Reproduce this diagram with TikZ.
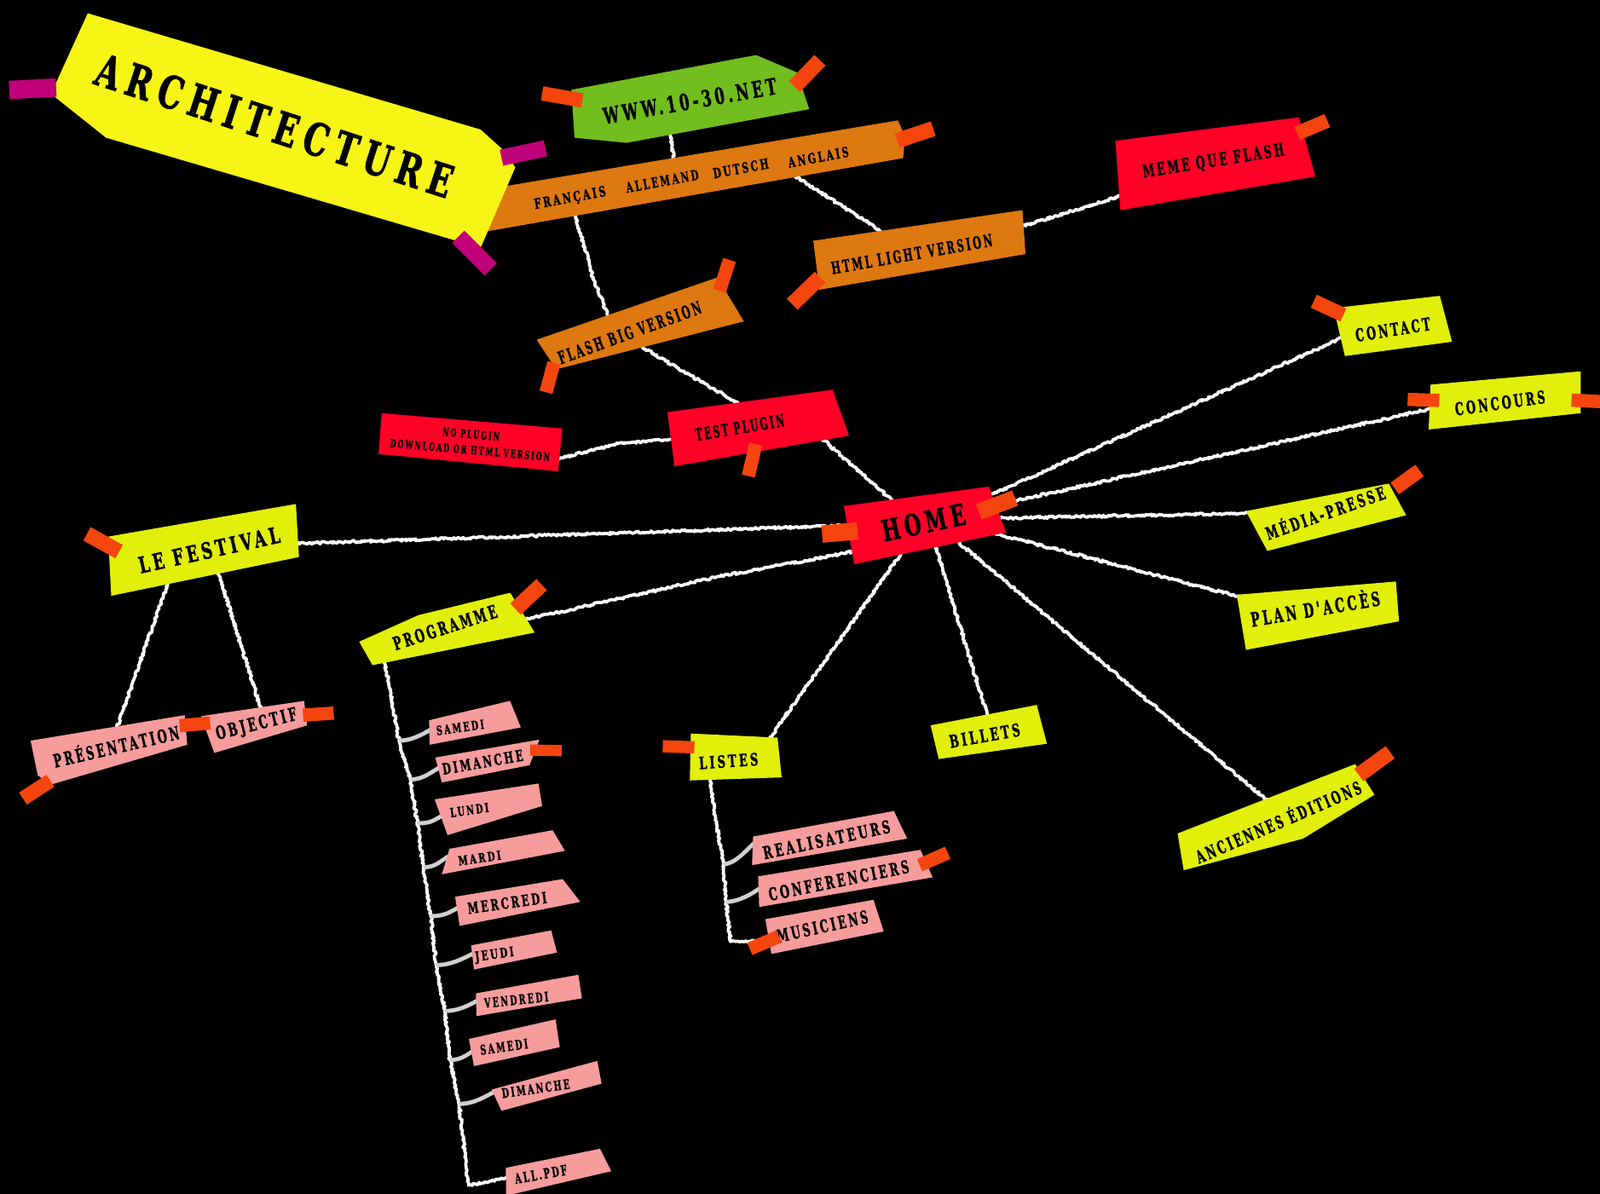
\documentclass[tikz,border=0pt]{standalone}
\usepackage{fontspec}
\usepackage{graphicx}
\newfontfamily\slab{DejaVu Serif}[LetterSpace=24,FakeBold=1.8]
\usetikzlibrary{decorations.pathmorphing}
\definecolor{cYel}{HTML}{F7F516}
\definecolor{cLime}{HTML}{E1EF0B}
\definecolor{cGreen}{HTML}{72BE1F}
\definecolor{cOrg}{HTML}{DE7811}
\definecolor{cRed}{HTML}{FF0026}
\definecolor{cPink}{HTML}{F79C9C}
\definecolor{cTape}{HTML}{F5450F}
\definecolor{cMag}{HTML}{C0007A}
\newcommand\lbltext[3]{\resizebox{#1pt}{#2pt}{\smash{#3}\vphantom{X}}}
\newcommand\tp[6]{\node[tape,fill=#1,minimum width=#5pt,minimum height=#6pt,rotate=#4] (#2) at (#3) {};}
\begin{document}
\begin{tikzpicture}[x=1pt,y=-1pt,
  lbl/.style={inner sep=0pt,font=\slab\bfseries,text=black},
  tape/.style={rectangle,inner sep=0pt,draw=none},
  chalk/.style={draw=white,line width=3.1pt,line cap=round,line join=round,decorate,decoration={random steps,segment length=1.5pt,amplitude=1.2pt}},
  twig/.style={draw=white!82!black,line width=1.1pt,line join=round,decorate,decoration={zigzag,segment length=1.3pt,amplitude=1.7pt}}]
\useasboundingbox (0,0) rectangle (1568,1170);
\fill[black] (0,0) rectangle (1568,1170);

% ---------- attachment points ----------
\coordinate (wwwB) at (656,128);  \coordinate (barT) at (663,170);
\coordinate (barR) at (775,170);  \coordinate (htmlT) at (872,232);
\coordinate (barL) at (562,205);  \coordinate (barLm) at (572,240); \coordinate (barLn) at (583,278);
\coordinate (flashT) at (600,318);
\coordinate (flashB) at (620,335);\coordinate (testT) at (735,402);
\coordinate (testR) at (800,425); \coordinate (homeT) at (885,500);
\coordinate (testL) at (665,430); \coordinate (nopM) at (605,435); \coordinate (nopR) at (545,450);
\coordinate (htmlR) at (995,224); \coordinate (memeL) at (1105,190);
\coordinate (homeL) at (835,515); \coordinate (festR) at (285,533);
\coordinate (homeBL) at (840,540);\coordinate (progM) at (700,566); \coordinate (progR) at (512,608);
\coordinate (homeRa) at (965,488);\coordinate (contL) at (1318,330);
\coordinate (homeRb) at (972,496);\coordinate (concL) at (1405,400);
\coordinate (homeRc) at (976,508);\coordinate (mediaL) at (1232,503);
\coordinate (homeRd) at (972,522);\coordinate (planL) at (1222,587);
\coordinate (homeBa) at (935,528);\coordinate (ancT) at (1246,788);
\coordinate (homeBb) at (915,530);\coordinate (billT) at (969,705);
\coordinate (homeBc) at (885,540);\coordinate (listT) at (752,727);
\coordinate (festBa) at (165,570);\coordinate (presT) at (114,715);
\coordinate (festBb) at (213,558);\coordinate (objT) at (256,696);
\coordinate (progB) at (377,648);
\coordinate (k1) at (391,726); \coordinate (k2) at (402,764);
\coordinate (k3) at (409,807); \coordinate (k4) at (415,850);
\coordinate (k5) at (422,898); \coordinate (k6) at (427.5,946);
\coordinate (k7) at (436,991); \coordinate (k8) at (441,1039);
\coordinate (k9) at (450,1082);\coordinate (k10) at (459,1162);
\coordinate (e1) at (424,714); \coordinate (e2) at (431,752);
\coordinate (e3) at (434,799); \coordinate (e4) at (440,839);
\coordinate (e5) at (450,889); \coordinate (e6) at (465,934);
\coordinate (e7) at (469,980); \coordinate (e8) at (464,1030);
\coordinate (e9) at (485,1070);\coordinate (e10) at (498,1154);
\coordinate (listB) at (696,762);
\coordinate (l1) at (700,796); \coordinate (l2) at (709,847);
\coordinate (l3) at (711.5,884); \coordinate (l4) at (716,923);
\coordinate (musL) at (757,922);
\coordinate (realL) at (742,824); \coordinate (confL) at (748,868);

% ---------- connectors ----------
\draw[chalk] (wwwB) -- (barT);
\draw[chalk] (barR) -- (htmlT);
\draw[chalk] (barL) -- (barLm) -- (barLn) -- (flashT);
\draw[chalk] (flashB) -- (testT);
\draw[chalk] (testR) -- (homeT);
\draw[chalk] (testL) -- (nopM) -- (nopR);
\draw[chalk] (htmlR) -- (memeL);
\draw[chalk] (homeL) -- (festR);
\draw[chalk] (homeBL) -- (progM) -- (progR);
\draw[chalk] (homeRa) -- (contL);
\draw[chalk] (homeRb) -- (concL);
\draw[chalk] (homeRc) -- (mediaL);
\draw[chalk] (homeRd) -- (planL);
\draw[chalk] (homeBa) -- (ancT);
\draw[chalk] (homeBb) -- (billT);
\draw[chalk] (homeBc) -- (listT);
\draw[chalk] (festBa) -- (presT);
\draw[chalk] (festBb) -- (objT);
\draw[chalk] (progB) -- (k1) -- (k2) -- (k3) -- (k4) -- (k5) -- (k6) -- (k7) -- (k8) -- (k9) -- (k10) -- (e10);
\draw[twig] (k1) .. controls +(12,0) and +(-10,6) .. (e1);
\draw[twig] (k2) .. controls +(12,0) and +(-10,6) .. (e2);
\draw[twig] (k3) .. controls +(12,0) and +(-10,6) .. (e3);
\draw[twig] (k4) .. controls +(12,0) and +(-10,6) .. (e4);
\draw[twig] (k5) .. controls +(12,0) and +(-10,6) .. (e5);
\draw[twig] (k6) .. controls +(14,0) and +(-12,6) .. (e6);
\draw[twig] (k7) .. controls +(12,0) and +(-10,6) .. (e7);
\draw[twig] (k8) .. controls +(10,0) and +(-8,5) .. (e8);
\draw[twig] (k9) .. controls +(14,0) and +(-12,6) .. (e9);
\draw[chalk] (listB) -- (l1) -- (l2) -- (l3) -- (l4) -- (musL);
\draw[twig] (l2) .. controls +(12,0) and +(-10,8) .. (realL);
\draw[twig] (l3) .. controls +(12,0) and +(-10,8) .. (confL);

% ---------- stickies ----------
\fill[cOrg] (476,227) -- (492,183) -- (880,118) -- (887,134) -- (885,155) -- cycle;
\fill[cYel] (86,13) -- (471,127) -- (492,146) -- (505,164) -- (471,243) -- (104,135) -- (50,92) -- cycle;
\fill[cGreen] (560,88) -- (741,54) -- (781,71) -- (793,107) -- (614,140) -- (563,135) -- cycle;
\fill[cOrg] (526,333) -- (703,272) -- (729,315) -- (545,362) -- cycle;
\fill[cOrg] (797,236) -- (1002,206) -- (1005,249) -- (803,284) -- cycle;
\fill[cRed] (1093,138) -- (1273,115) -- (1289,173) -- (1098,206) -- cycle;
\fill[cRed] (654,404) -- (816,382) -- (832,427) -- (661,457) -- cycle;
\fill[cRed] (374,405) -- (551,420) -- (547,462) -- (371,445) -- cycle;
\fill[cRed] (827,496) -- (969,477) -- (986,522) -- (837,553) -- cycle;
\fill[cLime] (1307,302) -- (1411,290) -- (1423,335) -- (1318,349) -- cycle;
\fill[cLime] (1402,377) -- (1549,364) -- (1549,405) -- (1400,421) -- cycle;
\fill[cLime] (1221,501) -- (1361,474) -- (1378,505) -- (1242,540) -- cycle;
\fill[cLime] (1212,583) -- (1368,570) -- (1371,609) -- (1221,637) -- cycle;
\fill[cLime] (106,526) -- (290,494) -- (293,546) -- (109,584) -- cycle;
\fill[cLime] (352,629) -- (410,603) -- (500,581) -- (524,620) -- (365,652) -- cycle;
\fill[cPink] (30,726) -- (181,701) -- (183.5,730) -- (50,769) -- (37,760) -- cycle;
\fill[cPink] (197,702) -- (298,687) -- (301,711) -- (210,738) -- cycle;
\fill[cLime] (677,719) -- (762,723) -- (766,762) -- (676,765) -- cycle;
\fill[cPink] (738,820) -- (876,795) -- (889,822) -- (737,848) -- cycle;
\fill[cPink] (743,859) -- (902,833) -- (914,860) -- (744,889) -- cycle;
\fill[cPink] (750,901) -- (856,882) -- (866,913) -- (756,935) -- cycle;
\fill[cLime] (912,711) -- (1016,691) -- (1026,729) -- (920,744) -- cycle;
\fill[cLime] (1154,817) -- (1328,749) -- (1347,779) -- (1277,822) -- (1160,853) -- cycle;
\fill[cPink] (420.5,706) -- (499.8,687) -- (510.4,713) -- (421,730) -- cycle;
\fill[cPink] (426.6,742.5) -- (528.5,725) -- (519,750) -- (433,767) -- cycle;
\fill[cPink] (426,783.5) -- (527.7,768) -- (531.3,790) -- (438.6,818.6) -- cycle;
\fill[cPink] (440.5,832) -- (541.6,813.8) -- (553.6,834) -- (433,857) -- cycle;
\fill[cPink] (446,879) -- (551.4,861.7) -- (568.7,884) -- (450.5,907.5) -- cycle;
\fill[cPink] (461.7,926.6) -- (540.2,912) -- (545.8,933.7) -- (464.5,950.3) -- cycle;
\fill[cPink] (466.4,973.7) -- (566.7,955.5) -- (570.3,978.5) -- (467,996) -- cycle;
\fill[cPink] (459.5,1018.4) -- (544.4,999.2) -- (548.6,1026.4) -- (464.5,1045) -- cycle;
\fill[cPink] (481.8,1068) -- (585.4,1039.9) -- (589.5,1062.2) -- (491.5,1088.8) -- cycle;
\fill[cPink] (495.7,1144.7) -- (588,1126) -- (599,1148) -- (496,1172) -- cycle;

% ---------- texts ----------
\node[lbl,rotate=-18] (arch) at (269,123) {\lbltext{365}{32}{ARCHITECTURE}};
\node[lbl,rotate=10] (www) at (676,99) {\lbltext{172}{16}{WWW.10-30.NET}};
\node[lbl,rotate=10.5] (fr) at (558.5,193.5) {\lbltext{71}{10}{FRANÇAIS}};
\node[lbl,rotate=10.5] (al) at (649,177.5) {\lbltext{72}{10}{ALLEMAND}};
\node[lbl,rotate=10.5] (du) at (726,165) {\lbltext{55}{10}{DUTSCH}};
\node[lbl,rotate=10.5] (an) at (802,154) {\lbltext{60}{10}{ANGLAIS}};
\node[lbl,rotate=20] (flash) at (617,326) {\lbltext{148}{12.5}{FLASH BIG VERSION}};
\node[lbl,rotate=10] (html) at (893.5,249) {\lbltext{160}{12}{HTML LIGHT VERSION}};
\node[lbl,rotate=9] (meme) at (1189,157) {\lbltext{140}{12.5}{MEME QUE FLASH}};
\node[lbl,rotate=9.5] (test) at (725,419) {\lbltext{88}{12}{TEST PLUGIN}};
\node[lbl,rotate=-5] (nopa) at (461.6,425.5) {\lbltext{56}{8}{NO PLUGIN}};
\node[lbl,rotate=-5] (nopb) at (460.6,441) {\lbltext{157}{8}{DOWNLOAD OR HTML VERSION}};
\node[lbl,rotate=12] (home) at (905,512) {\lbltext{83}{21}{HOME}};
\node[lbl,rotate=9] (contact) at (1365,323) {\lbltext{74}{12.5}{CONTACT}};
\node[lbl,rotate=8] (concours) at (1470,395) {\lbltext{89}{12.5}{CONCOURS}};
\node[lbl,rotate=19.5] (media) at (1299,503) {\lbltext{123}{12.5}{MÉDIA-PRESSE}};
\node[lbl,rotate=9.5] (plan) at (1289,597) {\lbltext{128}{14}{PLAN D'ACCÈS}};
\node[lbl,rotate=12.5] (fest) at (205,539) {\lbltext{141}{16}{LE FESTIVAL}};
\node[lbl,rotate=18] (prog) at (436,615) {\lbltext{106}{13}{PROGRAMME}};
\node[lbl,rotate=13] (pres) at (114,732) {\lbltext{126}{13}{PRÉSENTATION}};
\node[lbl,rotate=14] (obj) at (251,709) {\lbltext{81}{13}{OBJECTIF}};
\node[lbl,rotate=4] (listes) at (714,746) {\lbltext{58}{12}{LISTES}};
\node[lbl,rotate=12] (real) at (810,823) {\lbltext{127}{12.5}{REALISATEURS}};
\node[lbl,rotate=11.5] (conf) at (822,863) {\lbltext{140}{12.5}{CONFERENCIERS}};
\node[lbl,rotate=12.5] (mus) at (806,908) {\lbltext{91}{12.5}{MUSICIENS}};
\node[lbl,rotate=10] (billets) at (965,721) {\lbltext{70}{12.5}{BILLETS}};
\node[lbl,rotate=23.5] (anc) at (1253,806) {\lbltext{175}{12.5}{ANCIENNES ÉDITIONS}};
\node[lbl,rotate=8] (da) at (451,713) {\lbltext{47}{9}{SAMEDI}};
\node[lbl,rotate=10] (db) at (473,747) {\lbltext{80}{11}{DIMANCHE}};
\node[lbl,rotate=8] (dc) at (460,794) {\lbltext{38}{9}{LUNDI}};
\node[lbl,rotate=8] (dd) at (470,841) {\lbltext{42}{9}{MARDI}};
\node[lbl,rotate=8] (de) at (497,885) {\lbltext{78}{11}{MERCREDI}};
\node[lbl,rotate=8] (df) at (484.5,935) {\lbltext{38}{9.5}{JEUDI}};
\node[lbl,rotate=6] (dg) at (506,980) {\lbltext{63}{9.5}{VENDREDI}};
\node[lbl,rotate=8] (dh) at (494,1026) {\lbltext{47}{9.5}{SAMEDI}};
\node[lbl,rotate=8] (di) at (525,1067) {\lbltext{67}{9.5}{DIMANCHE}};
\node[lbl,rotate=10] (dj) at (530,1151) {\lbltext{51.5}{10}{ALL.PDF}};

% ---------- tapes ----------
\tp{cMag}{ma}{32,87}{3}{46}{18}
\tp{cMag}{mb}{513,150}{12}{44}{16}
\tp{cMag}{mc}{465,248}{-45}{45}{17}
\tp{cTape}{ta}{551,95}{-10}{40}{14}
\tp{cTape}{tb}{791,72}{46}{36}{15}
\tp{cTape}{tc}{897,132}{18.5}{37}{15}
\tp{cTape}{td}{710,270}{72}{32}{13}
\tp{cTape}{te}{539,370}{75}{30}{13}
\tp{cTape}{tf}{790,285}{44}{38}{15}
\tp{cTape}{tg}{1286,124.5}{23}{32}{14}
\tp{cTape}{th}{737,451}{77}{32}{13}
\tp{cTape}{ti}{823,522}{5}{35}{17}
\tp{cTape}{tj}{977,495}{21}{38}{16}
\tp{cTape}{tk}{1302,302}{-25}{32}{14}
\tp{cTape}{tl}{1395,392}{-2}{31}{13}
\tp{cTape}{tm}{1556,393}{-3}{32}{13}
\tp{cTape}{tn}{1379,470}{36}{30}{14}
\tp{cTape}{to}{101,532}{-29}{36}{15}
\tp{cTape}{tq}{518,585}{43}{35}{15}
\tp{cTape}{tr}{191,710}{5}{30}{13}
\tp{cTape}{ts}{36,774}{33}{32}{14}
\tp{cTape}{tt}{312,700}{4}{30}{13}
\tp{cTape}{tu}{535,735.5}{-1}{31}{11}
\tp{cTape}{tv}{665,732}{-2}{31}{12}
\tp{cTape}{tw}{915,842}{24}{30}{13}
\tp{cTape}{tx}{749,924}{23}{31}{13}
\tp{cTape}{ty}{1347,748.5}{36}{38}{15}
\end{tikzpicture}
\end{document}
